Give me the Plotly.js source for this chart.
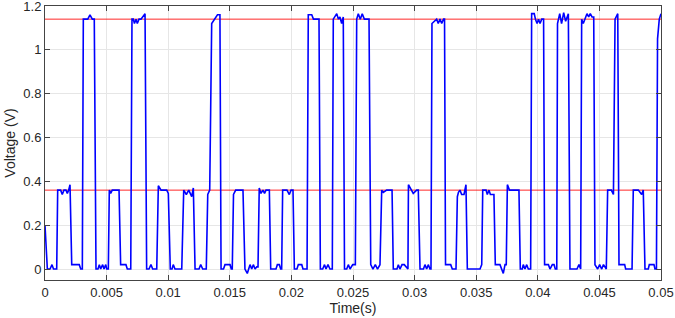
<!DOCTYPE html>
<html>
<head>
<meta charset="utf-8">
<script src="https://cdn.plot.ly/plotly-3.0.1.min.js"></script>
<style>html,body{margin:0;padding:0;background:#fff;}#chart{width:675px;height:318px;}</style>
</head>
<body>
<div id="chart"></div>
<script>
// Time samples (s)
const timeS = [
0,0.00019,0.00041,0.00057,0.00069,0.00095,0.00103,0.00127,0.00140,0.00154,0.00170,0.00181,0.00192,0.00203,0.00217,0.00278,0.00290,0.00303,
0.00311,0.00347,0.00365,0.00384,0.00400,0.00414,0.00430,0.00441,0.00452,0.00468,0.00479,0.00493,0.00501,0.00514,
0.00522,0.00533,0.00546,0.00601,0.00614,0.00657,0.00668,0.00696,
0.00706,0.00717,0.00726,0.00739,0.00749,0.00763,0.00779,0.00812,0.00825,0.00844,0.00860,0.00874,0.00907,
0.00920,0.00942,0.00988,0.01001,0.01017,0.01031,0.01041,0.01055,0.01110,
0.01126,0.01147,0.01167,0.01191,0.01204,0.01218,0.01250,0.01264,0.01280,0.01309,
0.01321,0.01337,0.01353,0.01400,0.01420,0.01429,0.01449,0.01461,0.01502,0.01512,0.01520,
0.01530,0.01548,0.01607,0.01623,0.01642,0.01664,0.01678,0.01691,0.01705,0.01719,0.01729,
0.01739,0.01753,0.01769,0.01782,0.01794,0.01821,0.01832,0.01875,0.01886,0.01902,0.01913,0.01921,
0.01929,0.01964,0.01983,0.01997,0.02013,0.02024,0.02045,0.02056,0.02084,0.02094,0.02127,
0.02137,0.02165,0.02179,0.02224,0.02235,0.02254,0.02269,0.02281,0.02297,0.02313,0.02332,
0.02340,0.02368,0.02382,0.02394,0.02408,0.02421,0.02431,0.02449,0.02462,0.02476,0.02498,0.02519,
0.02530,0.02543,0.02559,0.02575,0.02592,0.02630,0.02644,0.02662,0.02681,0.02699,0.02719,
0.02733,0.02746,0.02773,0.02817,0.02827,0.02857,0.02868,0.02881,0.02898,0.02916,0.02946,
0.02950,0.02971,0.02989,0.03017,0.03030,0.03044,0.03072,0.03084,0.03098,0.03111,0.03125,0.03133,
0.03141,0.03179,0.03192,0.03206,0.03220,0.03235,0.03243,0.03251,0.03265,0.03293,0.03306,0.03336,
0.03347,0.03356,0.03368,0.03382,0.03401,0.03417,0.03428,0.03531,0.03545,
0.03553,0.03580,0.03590,0.03604,0.03615,0.03644,0.03655,0.03693,0.03720,0.03734,0.03744,
0.03753,0.03770,0.03847,0.03858,0.03874,0.03882,0.03896,0.03910,0.03923,0.03942,
0.03950,0.03971,0.03981,0.03994,0.04006,0.04018,0.04032,0.04047,0.04055,0.04086,0.04099,0.04118,0.04132,0.04142,0.04154,
0.04160,0.04178,0.04193,0.04210,0.04226,0.04248,0.04261,0.04318,0.04334,0.04348,
0.04356,0.04369,0.04383,0.04399,0.04413,0.04426,0.04440,0.04454,0.04464,0.04486,0.04502,0.04519,0.04533,0.04556,
0.04567,0.04597,0.04614,0.04627,0.04649,0.04659,0.04705,0.04713,0.04765,
0.04775,0.04816,0.04830,0.04843,0.04856,0.04870,0.04897,0.04905,0.04943,0.04951,0.04963,
0.04972,0.04986,0.05000
];
// Voltage samples (V)
const voltageV = [
0.20,0.00,0.00,0.02,0.00,0.00,0.36,0.36,0.34,0.36,0.36,0.345,0.36,0.385,0.02,0.02,0.00,0.00,
1.14,1.14,1.16,1.14,1.14,0.00,0.00,0.02,0.00,0.02,0.00,0.02,0.00,0.00,
0.36,0.345,0.36,0.36,0.02,0.02,0.00,0.00,
1.14,1.14,1.12,1.14,1.12,1.14,1.14,1.165,0.00,0.00,0.02,0.00,0.00,
0.38,0.36,0.36,0.345,0.00,0.00,0.02,0.00,0.00,
0.36,0.34,0.36,0.33,0.37,0.00,0.00,0.02,0.00,0.00,
0.34,0.36,1.12,1.16,1.16,0.00,0.00,0.02,0.02,0.00,0.00,
0.34,0.36,0.36,0.00,-0.02,0.02,0.00,0.02,0.00,0.01,0.01,
0.37,0.345,0.36,0.345,0.36,0.36,0.00,0.00,0.02,0.02,0.00,0.00,
0.36,0.36,0.34,0.36,0.36,0.00,0.00,0.02,0.02,0.00,0.00,
1.16,1.16,1.14,1.14,0.00,0.00,0.02,0.00,0.02,0.00,0.00,
1.14,1.165,1.14,1.15,1.12,1.15,0.00,0.00,0.02,0.00,0.02,0.02,
1.14,1.165,1.14,1.165,1.14,1.14,0.02,0.00,0.02,0.00,0.02,
0.36,0.35,0.36,0.36,0.00,0.00,0.02,0.00,0.02,0.02,0.00,
0.385,0.36,0.345,0.36,0.36,0.00,0.00,0.02,0.00,0.02,0.00,0.00,
1.12,1.14,1.12,1.14,1.12,1.14,1.14,0.02,0.02,0.02,0.00,0.00,
0.33,0.35,0.36,0.34,0.34,0.385,0.00,0.00,0.02,
0.36,0.36,0.34,0.36,0.34,0.34,0.02,0.02,-0.02,0.02,0.02,
0.385,0.36,0.36,0.00,0.00,0.02,0.00,0.02,0.00,0.00,
1.165,1.165,1.14,1.12,1.14,1.12,1.14,1.14,0.02,0.02,0.00,0.02,0.02,0.00,0.00,
1.12,1.165,1.12,1.17,1.13,1.165,0.00,0.00,0.02,0.00,
1.14,1.12,1.14,1.165,1.15,1.165,1.15,1.15,0.02,0.00,0.02,0.00,0.02,0.00,
0.36,0.36,0.34,1.14,1.165,0.02,0.02,0.00,0.00,
0.36,0.36,0.35,0.34,0.36,0.00,0.00,0.02,0.02,0.00,0.00,
1.05,1.14,1.165
];
// Reference threshold levels (V)
const levelHigh = 1.14;
const levelLow = 0.36;
const xTickVals = [0,0.005,0.01,0.015,0.02,0.025,0.03,0.035,0.04,0.045,0.05];
const xTickText = ['0','0.005','0.01','0.015','0.02','0.025','0.03','0.035','0.04','0.045','0.05'];
const yTickVals = [0,0.2,0.4,0.6,0.8,1,1.2];
const yTickText = ['0','0.2','0.4','0.6','0.8','1','1.2'];

const xEnds = [xTickVals[0], xTickVals[xTickVals.length-1]];
const traces = [
  {x: xEnds, y: [levelHigh, levelHigh], mode: 'lines', line: {color: 'rgba(255,0,0,0.85)', width: 1}, hoverinfo: 'skip'},
  {x: xEnds, y: [levelLow, levelLow], mode: 'lines', line: {color: 'rgba(255,0,0,0.85)', width: 1}, hoverinfo: 'skip'},
  {x: timeS, y: voltageV, mode: 'lines', line: {color: '#0000ff', width: 1.6}}
];

const axisCommon = {
  showline: true, linecolor: '#444444', linewidth: 1, mirror: 'allticks',
  ticks: 'inside', ticklen: 5, tickwidth: 1, tickcolor: '#444444',
  showgrid: true, gridcolor: '#e6e6e6', gridwidth: 1, zeroline: false,
  tickfont: {family: 'Liberation Sans, Arial, sans-serif', size: 13, color: '#262626'},
  tickmode: 'array', ticklabeloverflow: 'allow'
};

const layout = {
  width: 675, height: 318,
  margin: {l: 45, r: 14, t: 6, b: 38},
  paper_bgcolor: '#ffffff', plot_bgcolor: '#ffffff',
  showlegend: false,
  xaxis: Object.assign({}, axisCommon, {
    range: [0, 0.05], tickvals: xTickVals, ticktext: xTickText,
    title: {text: 'Time(s)', font: {family: 'Liberation Sans, Arial, sans-serif', size: 14, color: '#262626'}, standoff: 4}
  }),
  yaxis: Object.assign({}, axisCommon, {
    range: [-0.05, 1.2], tickvals: yTickVals, ticktext: yTickText,
    title: {text: 'Voltage (V)', font: {family: 'Liberation Sans, Arial, sans-serif', size: 14, color: '#262626'}, standoff: 4}
  })
};

Plotly.newPlot('chart', traces, layout, {staticPlot: true, displayModeBar: false});
</script>
</body>
</html>
